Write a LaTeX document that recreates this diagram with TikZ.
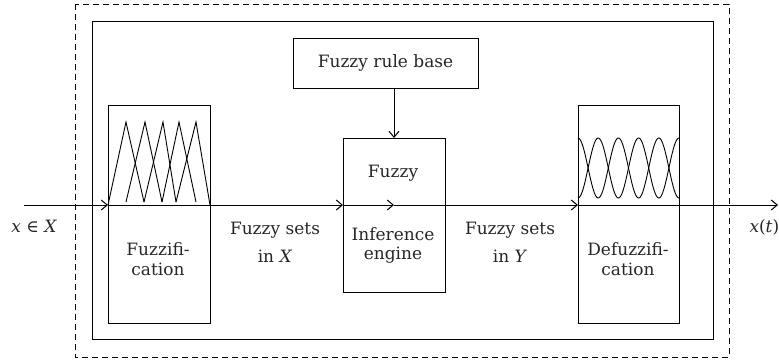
\documentclass[tikz,border=0pt]{standalone}
\usepackage{fontspec}
\setmainfont{DejaVu Serif}
\usetikzlibrary{arrows.meta}
\begin{document}
\begin{tikzpicture}[x=1pt,y=-1pt,
  line width=1pt,
  box/.style={draw, minimum width=#1, inner sep=0pt, outer sep=0pt},
  lbl/.style={font=\fontsize{17}{20}\selectfont, inner sep=0pt, anchor=base, text=black!85},
  arr/.style={-{Straight Barb[length=6pt,width=10pt,line width=1pt]}}
]
\useasboundingbox (0,0) rectangle (779,362);
% frames
\draw[dashed, dash pattern=on 6pt off 4pt] (75,4) rectangle (729,357);
\draw (92,21) rectangle (713,339);
% boxes
\node[box=185pt, minimum height=50pt] (rule) at (385.5,63) {};
\node[box=102pt, minimum height=218pt] (fuzz) at (159,214) {};
\node[box=102pt, minimum height=154pt] (inf) at (394,215) {};
\node[box=101pt, minimum height=218pt] (defuzz) at (628.5,214) {};
% labels
\node[lbl, anchor=center] (trule) at (385.5,63) {Fuzzy rule base};
\node[lbl] (tf1) at (158,255) {Fuzzifi-};
\node[lbl] (tf2) at (158,275) {cation};
\node[lbl] (ti0) at (393,177) {Fuzzy};
\node[lbl] (ti1) at (393,240) {Inference};
\node[lbl] (ti2) at (393,259) {engine};
\node[lbl] (td1) at (628,255) {Defuzzifi-};
\node[lbl] (td2) at (628,275) {cation};
\node[lbl] (tsx1) at (275,234) {Fuzzy sets};
\node[lbl] (tsx2) at (275,262) {in \textit{X}};
\node[lbl] (tsy1) at (510,234) {Fuzzy sets};
\node[lbl] (tsy2) at (510,262) {in \textit{Y}};
\node[lbl, anchor=base west] (tin) at (11,232) {\textit{x} ∈ \textit{X}};
\node[lbl, anchor=base west] (tout) at (749,232) {\textit{x}(\textit{t})};
% main signal line
\coordinate (in) at (24,205);
\coordinate (out) at (778,205);
\draw[arr] (in) -- (in -| fuzz.west);
\draw[arr] (in -| fuzz.west) -- (in -| inf.west);
\draw[arr] (in -| inf.west) -- (in -| inf.center);
\draw[arr] (in -| inf.center) -- (in -| defuzz.west);
\draw[arr] (in -| defuzz.west) -- (out);
\draw[arr] (inf.north |- rule.south) -- (inf.north);
% triangular membership functions
\draw[line width=0.9pt] (108,205) -- (126,122) -- (144,202);
\draw[line width=0.9pt] (126,202) -- (145,122) -- (162,202);
\draw[line width=0.9pt] (144,202) -- (163,122) -- (176,202);
\draw[line width=0.9pt] (162,202) -- (179,122) -- (196,202);
\draw[line width=0.9pt] (176,202) -- (196,122) -- (210,205);
% smooth membership functions
\draw[line width=0.9pt] plot[domain=0:101, samples=120, smooth] ({578+\x}, {168-30*cos(\x*8.911)});
\draw[line width=0.9pt] plot[domain=0:101, samples=120, smooth] ({578+\x}, {168+30*cos(\x*8.911)});
\end{tikzpicture}
\end{document}
